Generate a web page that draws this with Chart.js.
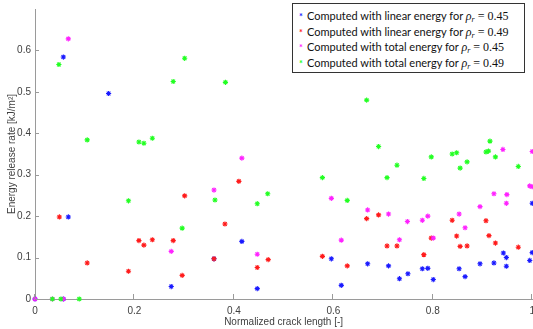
<!DOCTYPE html>
<html>
<head>
<meta charset="utf-8">
<script src="https://cdn.jsdelivr.net/npm/chart.js@4"></script>
<style>
  body { margin: 0; background: #fff; overflow: hidden; }
  #wrap { position: relative; width: 533px; height: 329px; overflow: hidden; }
  #legend {
    position: absolute; left: 292px; top: 3px; width: 233px; height: 70px;
    border: 1px solid #333; background: #fff; box-sizing: border-box;
    font-family: Lato, sans-serif; font-size: 11px; color: #111;
    padding-top: 4px;
  }
  #legend .row { height: 15.6px; line-height: 15.6px; white-space: nowrap; padding-left: 6px; }
  #legend .mk { display: inline-block; width: 8px; font-size: 9px; font-weight: bold; }
  #legend .m { font-family: "Liberation Serif", serif; font-size: 12px; }
  #legend sub { font-size: 8px; font-style: italic; vertical-align: -2px; line-height: 0; }
</style>
</head>
<body>
<div id="wrap">
  <!-- canvas a bit wider than the window so x = 1 lands on the right edge, like the original -->
  <canvas id="chart" width="541" height="329"></canvas>
  <div id="legend"></div>
</div>
<script>
// series: linear energy, rho 0.45 (blue)
const linear45X = [0, 0.057, 0.057, 0.148, 0.067, 0.274, 0.416, 0.360, 0.447, 0.596, 0.616, 0.669, 0.711, 0.733, 0.750, 0.779, 0.790, 0.801, 0.853, 0.865, 0.895, 0.923, 0.942, 0.948, 0.948, 0.995, 1.0, 1.0];
const linear45Y = [0, 0, 0.584, 0.496, 0.198, 0.030, 0.139, 0.097, 0.025, 0.097, 0.033, 0.085, 0.080, 0.049, 0.061, 0.073, 0.074, 0.047, 0.073, 0.054, 0.085, 0.087, 0.111, 0.100, 0.079, 0.093, 0.112, 0.231];

// linear energy, rho 0.49 (red)
const linear49X = [0.049, 0.105, 0.188, 0.209, 0.219, 0.236, 0.278, 0.296, 0.301, 0.360, 0.382, 0.410, 0.447, 0.469, 0.578, 0.628, 0.667, 0.691, 0.708, 0.728, 0.782, 0.797, 0.839, 0.848, 0.855, 0.869, 0.907, 0.913, 0.926, 0.972];
const linear49Y = [0.198, 0.087, 0.067, 0.141, 0.130, 0.143, 0.141, 0.057, 0.249, 0.097, 0.181, 0.284, 0.076, 0.095, 0.103, 0.080, 0.194, 0.203, 0.128, 0.128, 0.107, 0.147, 0.190, 0.152, 0.127, 0.128, 0.189, 0.153, 0.135, 0.125];

// total energy, rho 0.45 (magenta)
const total45X = [0, 0.035, 0.057, 0.067, 0.274, 0.360, 0.416, 0.447, 0.596, 0.616, 0.669, 0.711, 0.733, 0.749, 0.779, 0.790, 0.801, 0.853, 0.865, 0.895, 0.923, 0.941, 0.948, 0.949, 0.995, 1.0, 1.0];
const total45Y = [0, 0, 0, 0.628, 0.115, 0.263, 0.340, 0.108, 0.243, 0.142, 0.215, 0.205, 0.143, 0.187, 0.190, 0.200, 0.147, 0.205, 0.172, 0.223, 0.254, 0.361, 0.231, 0.252, 0.273, 0.271, 0.356];

// total energy, rho 0.49 (green)
const total49X = [0.035, 0.052, 0.089, 0.048, 0.105, 0.188, 0.209, 0.219, 0.236, 0.278, 0.296, 0.301, 0.362, 0.383, 0.447, 0.468, 0.578, 0.628, 0.667, 0.691, 0.708, 0.728, 0.782, 0.797, 0.839, 0.848, 0.855, 0.869, 0.907, 0.912, 0.915, 0.926, 0.972];
const total49Y = [0, 0, 0, 0.566, 0.384, 0.237, 0.379, 0.376, 0.388, 0.525, 0.171, 0.581, 0.239, 0.523, 0.230, 0.254, 0.293, 0.238, 0.480, 0.368, 0.293, 0.323, 0.291, 0.343, 0.350, 0.353, 0.316, 0.331, 0.355, 0.357, 0.381, 0.343, 0.320];

const seriesLabels = [
  ['Computed with linear energy for ', '0.45'],
  ['Computed with linear energy for ', '0.49'],
  ['Computed with total energy for ', '0.45'],
  ['Computed with total energy for ', '0.49']
];
const xTicks = [0, 0.2, 0.4, 0.6, 0.8, 1];
const yTicks = [0, 0.1, 0.2, 0.3, 0.4, 0.5, 0.6];

const colors = ['#1a1aff', '#ff1a1a', '#ff22ff', '#22ff22'];
const axisColor = '#9a9a9a';
const textColor = '#404040';

function toPoints(xs, ys) {
  return xs.map((x, i) => ({ x: x, y: ys[i] }));
}

const allSeries = [
  toPoints(linear45X, linear45Y),
  toPoints(linear49X, linear49Y),
  toPoints(total45X, total45Y),
  toPoints(total49X, total49Y)
];

// legend (html, sits inside the plot like matlab's)
document.getElementById('legend').innerHTML = seriesLabels
  .map((lab, i) => {
    return `<div class="row"><span class="mk" style="color:${colors[i]}">*</span>${lab[0]}<span class="m"><i>ρ</i><sub>r</sub> = ${lab[1]}</span></div>`;
  })
  .join('');

// ticks pointing inward, matlab style
const inwardTicks = {
  id: 'inwardTicks',
  afterDraw(chart) {
    const { ctx, chartArea, scales } = chart;
    ctx.save();
    ctx.strokeStyle = axisColor;
    ctx.lineWidth = 1;
    ctx.beginPath();
    yTicks.forEach(v => {
      const py = Math.round(scales.y.getPixelForValue(v)) + 0.5;
      ctx.moveTo(chartArea.left, py);
      ctx.lineTo(chartArea.left + 4, py);
    });
    xTicks.forEach(v => {
      const px = Math.round(scales.x.getPixelForValue(v)) - 0.5;
      ctx.moveTo(px, chartArea.bottom);
      ctx.lineTo(px, chartArea.bottom - 5);
    });
    ctx.stroke();
    ctx.restore();
  }
};

const tickFont = { family: '"Liberation Sans", Arial, sans-serif', size: 10 };

new Chart(document.getElementById('chart'), {
  type: 'scatter',
  data: {
    datasets: allSeries.map((pts, i) => ({
      label: seriesLabels[i].join(''),
      data: pts,
      pointStyle: 'star',
      radius: 2.6,
      borderWidth: 1.1,
      borderColor: colors[i],
      backgroundColor: colors[i],
      order: 4 - i
    }))
  },
  options: {
    responsive: false,
    animation: false,
    clip: false,
    layout: { padding: { top: 9, right: 0, left: 0, bottom: 0 } },
    plugins: {
      legend: { display: false },
      tooltip: { enabled: false }
    },
    scales: {
      x: {
        type: 'linear',
        min: 0,
        max: 1,
        grid: { display: false, drawTicks: false, tickLength: 0 },
        border: { display: true, color: axisColor, width: 1 },
        ticks: {
          stepSize: 0.2,
          padding: 6,
          color: textColor,
          font: tickFont,
          callback: v => String(Math.round(v * 10) / 10)
        },
        title: {
          display: true,
          text: 'Normalized crack length [-]',
          color: textColor,
          font: tickFont,
          padding: { top: 0, bottom: 1 }
        },
        afterFit(scale) {
          scale.height = 30;
        }
      },
      y: {
        min: 0,
        max: 0.7,
        grid: { display: false, drawTicks: false, tickLength: 0 },
        border: { display: true, color: axisColor, width: 1 },
        ticks: {
          stepSize: 0.1,
          padding: 4,
          color: textColor,
          font: tickFont,
          callback: v => (v > 0.65 ? '' : String(Math.round(v * 10) / 10))
        },
        title: {
          display: true,
          text: 'Energy release rate [kJ/m²]',
          color: textColor,
          font: tickFont,
          padding: { top: 6, bottom: 0 }
        },
        afterFit(scale) {
          scale.width = 35;
          scale.paddingTop = 0;
          scale.paddingBottom = 0;
        }
      }
    }
  },
  plugins: [inwardTicks]
});
</script>
</body>
</html>
